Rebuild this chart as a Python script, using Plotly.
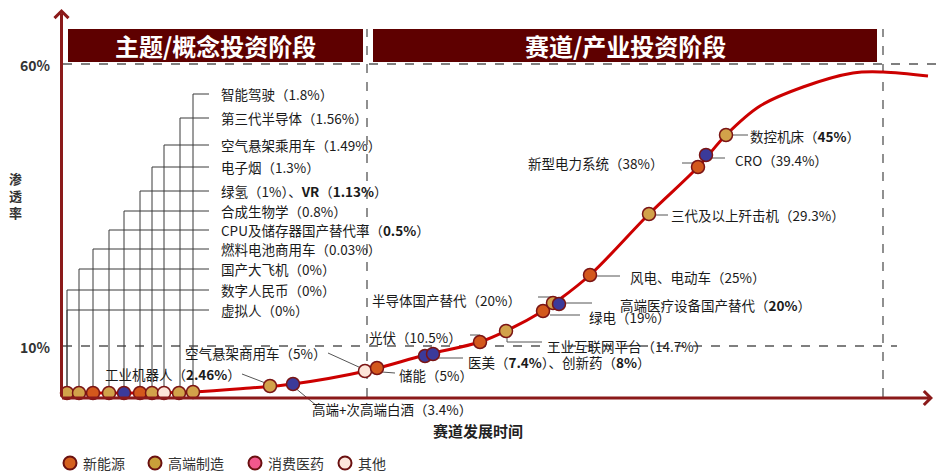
import plotly.graph_objects as go

FONT = "Noto Sans CJK SC"

# ---- chart units: t = development time, L = schematic penetration level ----
# S-curve (赛道发展曲线)
curve_t = [0, 130, 188, 231, 304, 363, 418, 444, 481, 494, 528, 587, 636, 664, 698, 741, 791, 821, 866]
curve_L = [4, 5, 9, 13, 26, 42, 55, 66, 86, 95, 122, 183, 230, 262, 291, 310, 324, 325, 321]

# sectors placed on the curve
mk_t = [5, 17, 31, 47, 62, 78, 90, 102, 117, 131,
        208, 231, 303, 315, 363, 371, 418, 444, 481, 491, 497, 528, 587, 636, 644, 664]
mk_L = [4, 4, 4, 4, 4, 4, 4, 4, 4, 5,
        11, 13, 26, 29, 41, 43, 55, 66, 86, 94, 93, 122, 183, 230, 242, 262]
mk_cat = ["高端制造", "高端制造", "新能源", "高端制造", "消费医药", "新能源", "高端制造", "其他", "高端制造", "高端制造",
          "高端制造", "消费医药", "其他", "新能源", "消费医药", "消费医药", "新能源", "高端制造", "新能源",
          "高端制造", "消费医药", "新能源", "高端制造", "新能源", "消费医药", "高端制造"]

cat_color = {"新能源": "#D3581C", "高端制造": "#D2A24A", "消费医药": "#3B3A9A", "其他": "#FCE4D8"}

# theme-stage bracket labels
br_t = [131, 118, 102, 90, 78, 62, 47, 31, 17, 5, 5]
br_L = [303, 279, 252, 230, 206, 186, 167, 148, 128, 107, 87]
br_text = ["智能驾驶（1.8%）", "第三代半导体（1.56%）", "空气悬架乘用车（1.49%）", "电子烟（1.3%）",
           "绿氢（1%）、<b>VR</b>（<b>1.13%</b>）", "合成生物学（0.8%）", "CPU及储存器国产替代率（<b>0.5%</b>）",
           "燃料电池商用车（0.03%）", "国产大飞机（0%）", "数字人民币（0%）", "虚拟人（0%）"]
br_end_t = 147
br_label_t = 157

# track-stage labels: text, anchor point, anchor side, leader line
lab_text = ["工业机器人（<b>2.46%</b>）", "空气悬架商用车（5%）", "储能（5%）", "高端+次高端白酒（3.4%）",
            "光伏（10.5%）", "医美（<b>7.4%</b>）、创新药（<b>8%</b>）", "工业互联网平台（14.7%）",
            "半导体国产替代（20%）", "高端医疗设备国产替代（<b>20%</b>）", "绿电（19%）", "风电、电动车（25%）",
            "三代及以上歼击机（29.3%）", "新型电力系统（38%）", "CRO（39.4%）", "数控机床（<b>45%</b>）"]
lab_t = [181, 266, 335, 248, 305, 404, 483, 308, 556, 525, 566, 607, 603, 671, 686]
lab_L = [23, 44, 22, -12, 60, 35, 51, 97, 92, 80, 120, 182, 234, 237, 261]
lab_side = ["right", "right", "left", "left", "left", "left", "left", "left", "left", "left", "left",
            "left", "right", "left", "left"]
lead_t = [[180, 206], [266, 299], [320, 333], [232, 255], [408, 418], [376, 401], [445, 445, 480],
          [476, 491], [500, 530], [488, 518], [535, 558], [593, 606], [620, 638], [646, 663], [670, 686]]
lead_L = [[23, 13], [44, 29], [25, 24], [10, -9], [62, 62], [39, 39], [62, 55, 55],
          [100, 100], [94, 94], [82, 82], [121, 121], [182, 182], [234, 234], [239, 239], [262, 262]]

# reference levels and stage boundaries
ref_L = [333, 51]
ref_end_t = [878, 835]
ref_text = ["60%", "10%"]
stage_t = [305, 821]
stage_names = ["主题/概念投资阶段", "赛道/产业投资阶段"]
stage_span = [[6, 301], [311, 815]]

legend_names = ["新能源", "高端制造", "消费医药", "其他"]
legend_colors = ["#D4601E", "#C9A03A", "#F2588C", "#FCE6DC"]
legend_t = [8, 93, 193, 283]

fig = go.Figure()

# bracket lines
bx, by = [], []
for t, L in zip(br_t, br_L):
    bx += [t, t, br_end_t, None]
    by += [4, L, L, None]
fig.add_trace(go.Scatter(x=bx, y=by, mode="lines", line=dict(color="#3a3a3a", width=1), hoverinfo="skip"))

# leader lines
lx, ly = [], []
for xs, ys in zip(lead_t, lead_L):
    lx += xs + [None]
    ly += ys + [None]
fig.add_trace(go.Scatter(x=lx, y=ly, mode="lines", line=dict(color="#555555", width=1), hoverinfo="skip"))

# S curve
fig.add_trace(go.Scatter(x=curve_t, y=curve_L, mode="lines",
                         line=dict(color="#CC0000", width=3, shape="spline", smoothing=1.0),
                         hoverinfo="skip"))

# sector markers
fig.add_trace(go.Scatter(x=mk_t, y=mk_L, mode="markers",
                         marker=dict(size=13, color=[cat_color[c] for c in mk_cat],
                                     line=dict(color="#7A1414", width=1.5)),
                         text=mk_cat, hoverinfo="text"))

# legend markers
fig.add_trace(go.Scatter(x=legend_t, y=[-66] * 4, mode="markers",
                         marker=dict(size=13, color=legend_colors, line=dict(color="#6A1010", width=2)),
                         hoverinfo="skip"))

shapes = []
for L, x1 in zip(ref_L, ref_end_t):
    shapes.append(dict(type="line", x0=1, x1=x1, y0=L, y1=L, xref="x", yref="y",
                       line=dict(color="#555555", width=1.3, dash="dash"), layer="below"))
for t in stage_t:
    shapes.append(dict(type="line", x0=t, x1=t, y0=0, y1=368, xref="x", yref="y",
                       line=dict(color="#555555", width=1.3, dash="dash"), layer="below"))
for (a, b) in stage_span:
    shapes.append(dict(type="rect", x0=a, x1=b, y0=335, y1=368, xref="x", yref="y",
                       fillcolor="#5E0000", line=dict(width=0), layer="above"))

ann = []
# axes arrows
ann.append(dict(x=-0.5, y=388, ax=-0.5, ay=-1, xref="x", yref="y", axref="x", ayref="y", text="",
                showarrow=True, arrowhead=4, arrowsize=0.9, arrowwidth=3, arrowcolor="#8B1A1A"))
ann.append(dict(x=871, y=-1, ax=-1.5, ay=-1, xref="x", yref="y", axref="x", ayref="y", text="",
                showarrow=True, arrowhead=4, arrowsize=0.9, arrowwidth=3, arrowcolor="#8B1A1A"))

for L, s in zip(ref_L, ref_text):
    ann.append(dict(x=-9, y=L - 1, xref="x", yref="y", text="<b>%s</b>" % s, showarrow=False, xanchor="right",
                    font=dict(family=FONT, size=14, color="#333333")))

for (a, b), s in zip(stage_span, stage_names):
    ann.append(dict(x=(a + b) / 2, y=352, xref="x", yref="y", text="<b>%s</b>" % s, showarrow=False,
                    font=dict(family=FONT, size=24, color="white")))

for L, s in zip(br_L, br_text):
    ann.append(dict(x=br_label_t, y=L, xref="x", yref="y", text=s, showarrow=False, xanchor="left",
                    font=dict(family=FONT, size=13.5, color="#1a1a1a")))

for t, L, s, side in zip(lab_t, lab_L, lab_text, lab_side):
    ann.append(dict(x=t, y=L, xref="x", yref="y", text=s, showarrow=False, xanchor=side,
                    font=dict(family=FONT, size=13.5, color="#1a1a1a")))

ann.append(dict(x=-47, y=202, xref="x", yref="y", text="<b>渗<br>透<br>率</b>", showarrow=False,
                font=dict(family=FONT, size=13, color="#333333")))
ann.append(dict(x=416, y=-33, xref="x", yref="y", text="<b>赛道发展时间</b>", showarrow=False,
                font=dict(family=FONT, size=15, color="#222222")))

for t, s in zip(legend_t, legend_names):
    ann.append(dict(x=t + 11, y=-66, xref="x", yref="y", text=s, showarrow=False, xanchor="left",
                    font=dict(family=FONT, size=14, color="#333333")))

# the page adds an 8px body margin; size and range the figure so it fills the rest of the window
fig.update_layout(
    width=937, height=464, margin=dict(l=0, r=0, t=0, b=0),
    paper_bgcolor="white", plot_bgcolor="white", showlegend=False,
    xaxis=dict(range=[-54, 883], visible=False, fixedrange=True),
    yaxis=dict(range=[-75, 389], visible=False, fixedrange=True),
    shapes=shapes, annotations=ann,
)

fig.write_html("out.html")
